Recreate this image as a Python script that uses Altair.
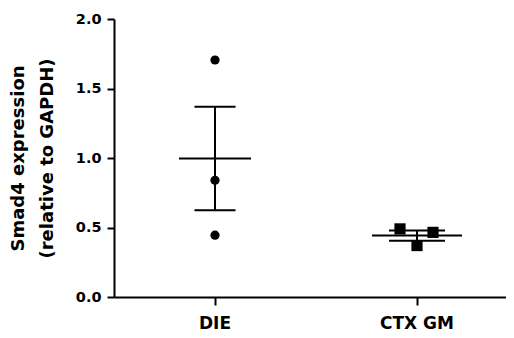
import altair as alt
import pandas as pd

groups = ["DIE", "DIE", "DIE", "CTX GM", "CTX GM", "CTX GM"]
values = [1.705, 0.84, 0.445, 0.49, 0.465, 0.37]
jitter = [0, 0, 0, -17, 16, 0]
order = ["DIE", "CTX GM"]

df = pd.DataFrame({"group": groups, "value": values, "jit": jitter})

FONT = "DejaVu Sans"

x = alt.X("group:N", sort=order, title=None,
          scale=alt.Scale(paddingInner=0, paddingOuter=0, range=[0, 404]))
yscale = alt.Scale(domain=[0, 2], nice=False)
ytitle = ["Smad4 expression", "(relative to GAPDH)"]

base = alt.Chart(df)

pts = base.mark_point(filled=True, opacity=1, color="black").encode(
    x=x,
    xOffset=alt.XOffset("jit:Q", scale=alt.Scale(domain=[-101, 101])),
    y=alt.Y("value:Q", scale=yscale, title=ytitle,
            axis=alt.Axis(values=[0, 0.5, 1.0, 1.5, 2.0], format=".1f")),
    shape=alt.Shape("group:N", scale=alt.Scale(domain=order, range=["circle", "square"]), legend=None),
    size=alt.condition(alt.datum.group == "DIE", alt.value(85), alt.value(125)),
)

agg = base.transform_aggregate(
    mean="mean(value)", se="stderr(value)", groupby=["group"]
).transform_calculate(
    lo="datum.mean - datum.se", hi="datum.mean + datum.se"
)

rule = agg.mark_rule(color="black", strokeWidth=2).encode(
    x=x, y=alt.Y("lo:Q", scale=yscale, title=ytitle), y2="hi:Q")

mean_tick = agg.mark_tick(color="black", thickness=2, opacity=1).encode(
    x=x, y=alt.Y("mean:Q", scale=yscale, title=ytitle),
    size=alt.condition(alt.datum.group == "DIE", alt.value(72), alt.value(90)))

lo_tick = agg.mark_tick(color="black", thickness=2, opacity=1).encode(
    x=x, y=alt.Y("lo:Q", scale=yscale, title=ytitle),
    size=alt.condition(alt.datum.group == "DIE", alt.value(41), alt.value(56)))

hi_tick = agg.mark_tick(color="black", thickness=2, opacity=1).encode(
    x=x, y=alt.Y("hi:Q", scale=yscale, title=ytitle),
    size=alt.condition(alt.datum.group == "DIE", alt.value(41), alt.value(56)))

chart = alt.layer(pts, rule, mean_tick, lo_tick, hi_tick).properties(
    width=392, height=278,
    autosize="none",
    padding={"left": 106, "top": 11, "right": 0, "bottom": 40},
).configure_view(stroke=None).configure_axis(
    labelFont=FONT, labelFontWeight=700, labelColor="black",
    titleFont=FONT, titleFontWeight=700, titleColor="black",
    domainColor="black", domainWidth=2, tickColor="black", tickWidth=2,
    grid=False,
).configure_axisX(
    labelAngle=0, labelFontSize=17, labelPadding=10, tickSize=8,
).configure_axisY(
    labelFontSize=14.5, labelPadding=6, tickSize=7,
    titleFontSize=18, titlePadding=19, titleLineHeight=29,
)

chart.save("out.html", embed_options={"renderer": "svg", "actions": False})
